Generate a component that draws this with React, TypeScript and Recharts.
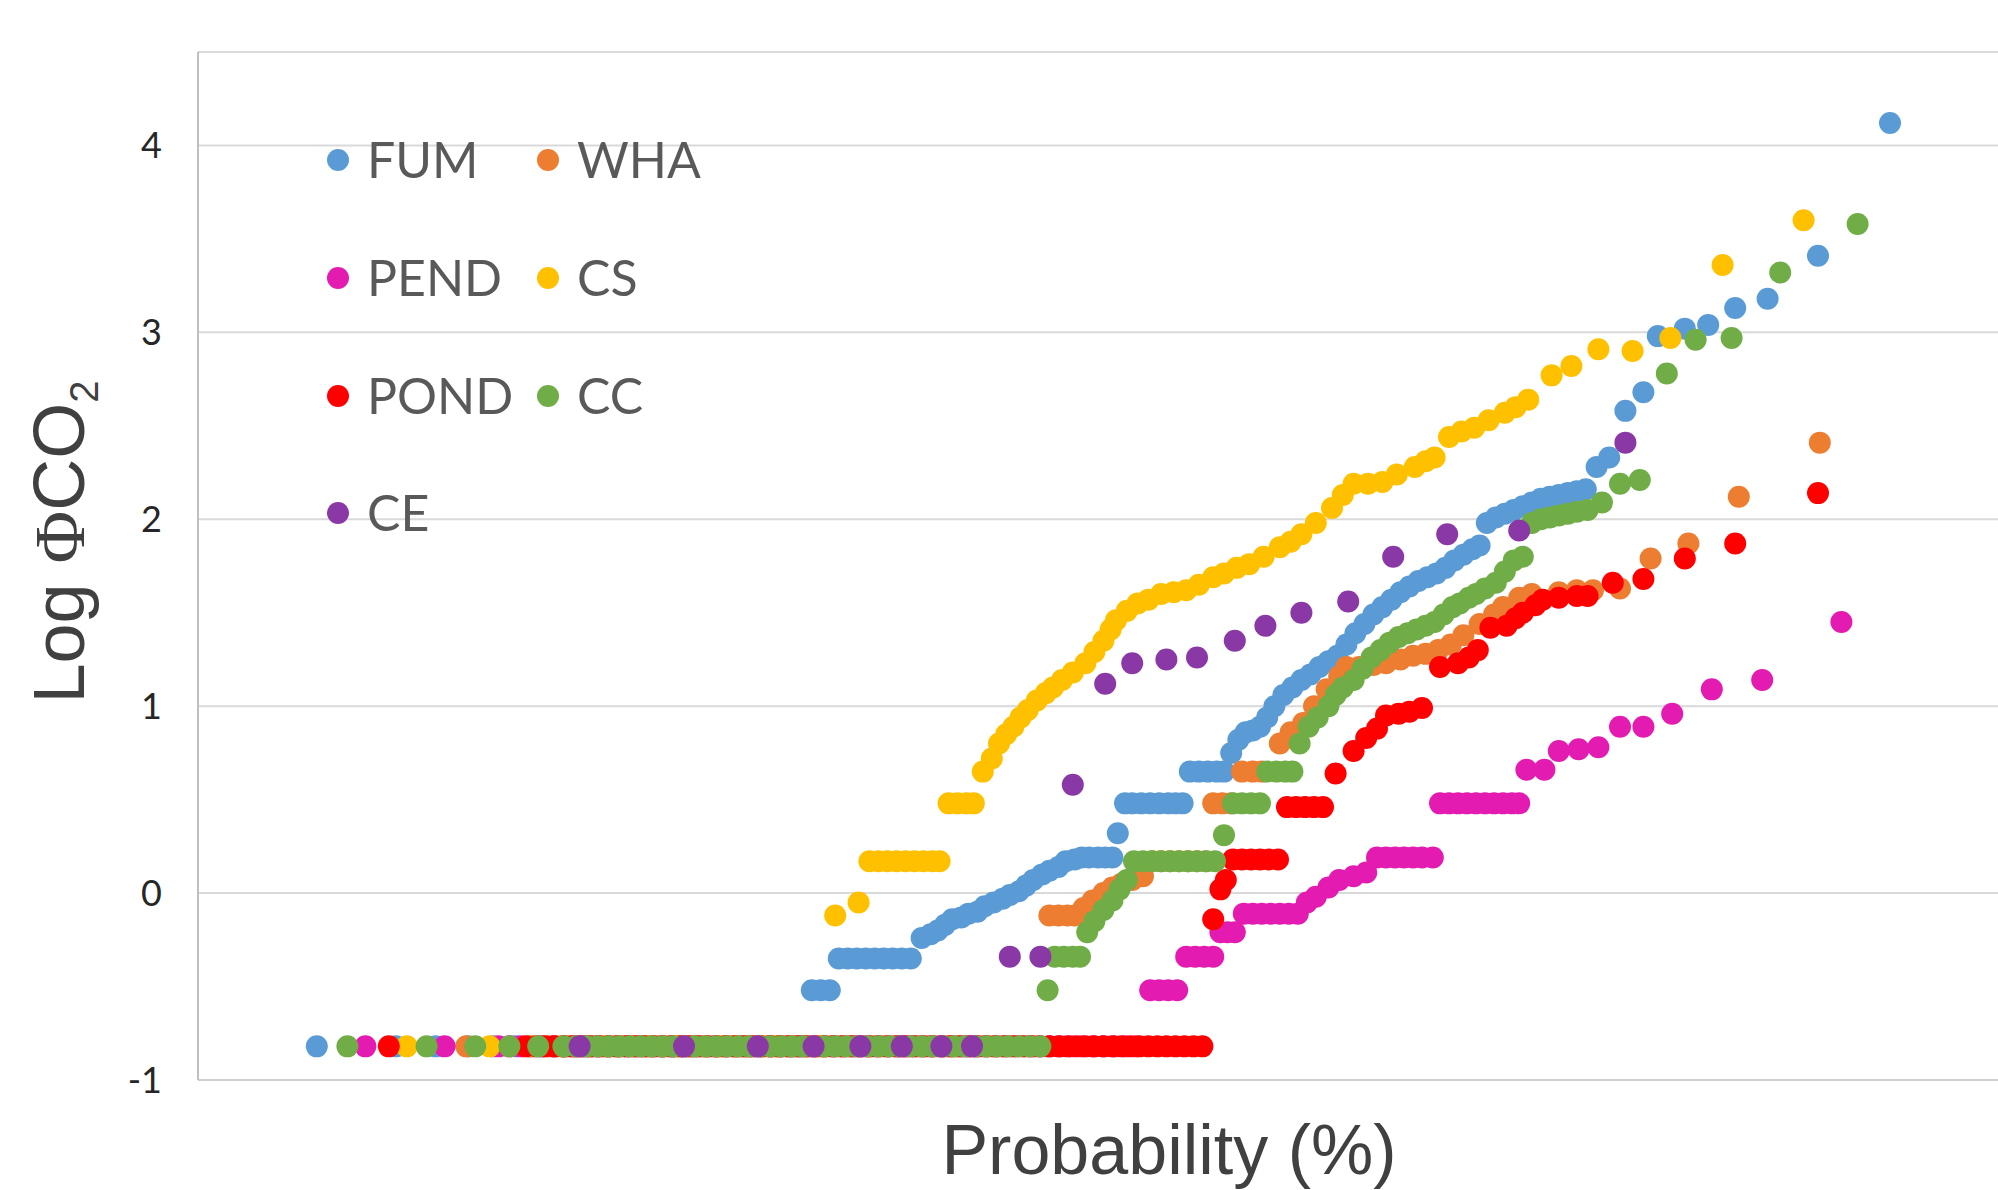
import React from 'react';
import { ScatterChart, Scatter, XAxis, YAxis, CartesianGrid, Legend } from 'recharts';

// every sample below the detection limit sits on this level
const DETECTION_LIMIT = -0.82;
const Y_TICKS = [-1, 0, 1, 2, 3, 4];

// FUM
const FUM_FLOOR = [6.6, 11.0, 13.2, 15.0, 16.4, 17.6, 18.4, 19.1, 19.8, 20.4, 21.0, 21.6, 22.2, 22.8, 23.4, 24.0, 24.6, 25.2, 25.8, 26.4, 27.0, 27.6, 28.2, 28.8, 29.4, 30.0, 30.6, 31.2, 31.8, 32.4, 33.0, 33.5];
const FUM_POINTS = [
  [34.1, -0.52], [34.6, -0.52], [35.1, -0.52],
  [35.6, -0.35], [36.1, -0.35], [36.6, -0.35], [37.1, -0.35], [37.6, -0.35], [38.1, -0.35], [38.6, -0.35], [39.1, -0.35], [39.6, -0.35],
  [40.2, -0.24], [40.7, -0.22], [41.1, -0.2], [41.5, -0.17], [41.9, -0.14], [42.4, -0.13], [42.8, -0.11], [43.3, -0.1], [43.7, -0.07], [44.2, -0.05], [44.7, -0.03], [45.1, -0.01], [45.6, 0.01], [46.0, 0.04], [46.4, 0.07], [46.9, 0.1], [47.3, 0.12], [47.8, 0.14], [48.2, 0.17], [48.7, 0.18],
  [49.1, 0.19], [49.5, 0.19], [50.0, 0.19], [50.4, 0.19], [50.8, 0.19],
  [51.1, 0.32],
  [51.5, 0.48], [51.9, 0.48], [52.4, 0.48], [52.9, 0.48], [53.4, 0.48], [53.9, 0.48], [54.3, 0.48], [54.7, 0.48],
  [55.1, 0.65], [55.6, 0.65], [56.1, 0.65], [56.6, 0.65], [57.0, 0.65],
  [57.4, 0.75], [57.8, 0.82], [58.2, 0.86], [58.6, 0.87], [59.0, 0.89], [59.4, 0.94], [59.8, 1.0], [60.3, 1.06], [60.8, 1.1], [61.3, 1.14], [61.8, 1.17], [62.3, 1.21], [62.8, 1.24], [63.3, 1.27], [63.8, 1.33], [64.3, 1.39], [64.8, 1.44], [65.3, 1.49], [65.8, 1.53], [66.3, 1.57], [66.8, 1.61], [67.3, 1.64], [67.8, 1.67], [68.3, 1.69], [68.8, 1.71], [69.3, 1.74], [69.8, 1.78], [70.3, 1.81], [70.8, 1.84], [71.2, 1.86],
  [71.6, 1.98], [72.1, 2.01], [72.6, 2.03], [73.1, 2.05], [73.6, 2.07], [74.1, 2.09], [74.6, 2.11], [75.1, 2.12], [75.6, 2.13], [76.1, 2.14], [76.6, 2.15], [77.1, 2.16],
  [77.7, 2.28], [78.4, 2.33], [79.3, 2.58], [80.3, 2.68], [81.1, 2.98], [82.6, 3.02], [83.9, 3.04], [85.4, 3.13], [87.2, 3.18], [90.0, 3.41], [94.0, 4.12],
];

// WHA
const WHA_FLOOR = [14.9, 19.9, 20.6, 21.2, 21.8, 22.4, 23.0, 23.6, 24.2, 24.8, 25.4, 26.0, 26.6, 27.2, 27.8, 28.4, 29.0, 29.6, 30.2, 30.8, 31.4, 32.0, 32.6, 33.2, 33.8, 34.4, 35.0, 35.6, 36.2, 36.8, 37.4, 38.0, 38.6, 39.2, 39.8, 40.4, 41.0, 41.6, 42.2, 42.8, 43.4, 44.0, 44.6, 45.2, 45.8, 46.4];
const WHA_POINTS = [
  [47.3, -0.12], [47.8, -0.12], [48.3, -0.12], [48.7, -0.12],
  [49.2, -0.08], [49.7, -0.04], [50.3, 0.0], [50.8, 0.03], [51.3, 0.05], [51.9, 0.07], [52.5, 0.09],
  [53.0, 0.17], [53.5, 0.17], [54.0, 0.17], [54.5, 0.17], [55.0, 0.17], [55.5, 0.17], [56.0, 0.17],
  [56.4, 0.48], [56.9, 0.48], [57.4, 0.48],
  [58.0, 0.65], [58.6, 0.65], [59.1, 0.65],
  [60.1, 0.8], [60.7, 0.86], [61.4, 0.91], [62.0, 1.0], [62.7, 1.09], [63.4, 1.16], [63.8, 1.21], [64.5, 1.21], [65.3, 1.22], [66.0, 1.23], [66.8, 1.25], [67.5, 1.27], [68.2, 1.28], [68.9, 1.3], [69.6, 1.33], [70.3, 1.38], [71.2, 1.44], [72.0, 1.49], [72.5, 1.53], [73.4, 1.58], [74.1, 1.6], [75.6, 1.61], [76.6, 1.62], [77.5, 1.62], [79.0, 1.63],
  [80.7, 1.79], [82.8, 1.87], [85.6, 2.12], [90.1, 2.41],
];

// PEND
const PEND_FLOOR = [9.3, 13.7, 16.7, 17.3, 17.9, 18.5, 19.1, 19.7, 20.3, 20.9, 21.5, 22.1, 22.7, 23.3, 23.9, 24.5, 25.1, 25.7, 26.3, 26.9, 27.5, 28.1, 28.7, 29.3, 29.9, 30.5, 31.1, 31.7, 32.3, 32.9, 33.5, 34.1, 34.7, 35.3, 35.9, 36.5, 37.1, 37.7, 38.3, 38.9, 39.5, 40.1, 40.7, 41.3, 41.9, 42.5, 43.1, 43.7, 44.3, 44.9, 45.5, 46.1, 46.7, 47.3, 47.9, 48.5, 49.1, 49.7, 50.3, 50.9, 51.5, 52.1];
const PEND_POINTS = [
  [52.9, -0.52], [53.4, -0.52], [53.9, -0.52], [54.4, -0.52],
  [54.9, -0.34], [55.4, -0.34], [55.9, -0.34], [56.4, -0.34],
  [56.8, -0.21], [57.2, -0.21], [57.6, -0.21],
  [58.1, -0.11], [58.6, -0.11], [59.1, -0.11], [59.6, -0.11], [60.1, -0.11], [60.6, -0.11], [61.1, -0.11],
  [61.6, -0.05], [62.1, -0.02], [62.8, 0.03], [63.4, 0.07], [64.2, 0.09], [64.9, 0.11],
  [65.5, 0.19], [66.0, 0.19], [66.5, 0.19], [67.0, 0.19], [67.5, 0.19], [68.0, 0.19], [68.6, 0.19],
  [69.0, 0.48], [69.5, 0.48], [70.0, 0.48], [70.5, 0.48], [71.0, 0.48], [71.5, 0.48], [72.0, 0.48], [72.5, 0.48], [73.0, 0.48], [73.4, 0.48],
  [73.8, 0.66], [74.8, 0.66], [75.6, 0.76], [76.7, 0.77], [77.8, 0.78], [79.0, 0.89], [80.3, 0.89], [81.9, 0.96], [84.1, 1.09], [86.9, 1.14], [91.3, 1.45],
];

// CS
const CS_FLOOR = [11.6, 16.2, 18.5, 19.4, 20.2, 21.0, 21.8, 22.6, 23.4, 24.2, 25.0, 25.8, 26.6, 27.4, 28.2, 29.0, 29.8, 30.6, 31.4, 32.2, 33.0, 33.8, 34.6];
const CS_POINTS = [
  [35.4, -0.12], [36.7, -0.05],
  [37.3, 0.17], [37.8, 0.17], [38.3, 0.17], [38.8, 0.17], [39.3, 0.17], [39.8, 0.17], [40.3, 0.17], [40.8, 0.17], [41.2, 0.17],
  [41.7, 0.48], [42.2, 0.48], [42.7, 0.48], [43.1, 0.48],
  [43.6, 0.65], [44.1, 0.72], [44.5, 0.8], [44.9, 0.85], [45.3, 0.89], [45.7, 0.94], [46.1, 0.98], [46.6, 1.03], [47.1, 1.07], [47.5, 1.1], [48.0, 1.14], [48.6, 1.18], [49.3, 1.23], [49.8, 1.29], [50.3, 1.35], [50.7, 1.41], [51.0, 1.46], [51.6, 1.51], [52.2, 1.55], [52.8, 1.57], [53.5, 1.6], [54.2, 1.61], [54.9, 1.62], [55.6, 1.65], [56.4, 1.69], [57.0, 1.71], [57.7, 1.74], [58.4, 1.76], [59.2, 1.8], [60.1, 1.85], [60.7, 1.88], [61.3, 1.92], [62.1, 1.98], [63.0, 2.06], [63.6, 2.13], [64.2, 2.19], [65.0, 2.19], [65.8, 2.2], [66.6, 2.24], [67.6, 2.28], [68.2, 2.31], [68.7, 2.33], [69.5, 2.44], [70.2, 2.47], [70.9, 2.49], [71.7, 2.53], [72.6, 2.57], [73.2, 2.6], [73.9, 2.64],
  [75.2, 2.77], [76.3, 2.82], [77.8, 2.91], [79.7, 2.9], [81.8, 2.97], [84.7, 3.36], [89.2, 3.6],
];

// POND
const POND_FLOOR = [10.6, 18.2, 18.8, 19.3, 19.8, 20.3, 20.8, 21.3, 21.8, 22.3, 22.8, 23.3, 23.8, 24.3, 24.8, 25.3, 25.8, 26.3, 26.8, 27.3, 27.8, 28.3, 28.8, 29.3, 29.8, 30.3, 30.8, 31.3, 31.8, 32.3, 32.8, 33.3, 33.8, 34.3, 34.8, 35.3, 35.8, 36.3, 36.8, 37.3, 37.8, 38.3, 38.8, 39.3, 39.8, 40.3, 40.8, 41.3, 41.8, 42.3, 42.8, 43.3, 43.8, 44.3, 44.8, 45.3, 45.8, 46.3, 46.8, 47.3, 47.8, 48.3, 48.8, 49.3, 49.8, 50.3, 50.8, 51.3, 51.8, 52.3, 52.8, 53.3, 53.8, 54.3, 54.8, 55.3, 55.8];
const POND_POINTS = [
  [56.4, -0.14], [56.8, 0.02], [57.1, 0.07],
  [57.5, 0.18], [58.0, 0.18], [58.5, 0.18], [59.0, 0.18], [59.5, 0.18], [60.0, 0.18],
  [60.5, 0.46], [61.0, 0.46], [61.5, 0.46], [62.0, 0.46], [62.5, 0.46],
  [63.2, 0.64], [64.2, 0.76], [64.9, 0.83], [65.5, 0.88], [66.0, 0.95], [66.7, 0.96], [67.3, 0.97], [68.0, 0.99],
  [69.0, 1.21], [70.0, 1.23], [70.6, 1.26], [71.1, 1.3], [71.8, 1.42], [72.7, 1.43], [73.2, 1.47], [73.6, 1.5], [74.3, 1.54], [74.7, 1.57], [75.6, 1.58], [76.6, 1.59], [77.2, 1.59],
  [78.6, 1.66], [80.3, 1.68], [82.6, 1.79], [85.4, 1.87], [90.0, 2.14],
];

// CC
const CC_FLOOR = [8.3, 12.7, 15.4, 17.3, 18.9, 20.3, 21.0, 21.6, 22.2, 22.8, 23.4, 24.0, 24.6, 25.2, 25.8, 26.4, 27.0, 27.6, 28.2, 28.8, 29.4, 30.0, 30.6, 31.2, 31.8, 32.4, 33.0, 33.6, 34.2, 34.8, 35.4, 36.0, 36.6, 37.2, 37.8, 38.4, 39.0, 39.6, 40.2, 40.8, 41.4, 42.0, 42.6, 43.2, 43.8, 44.4, 45.0, 45.6, 46.2, 46.8];
const CC_POINTS = [
  [47.2, -0.52],
  [47.6, -0.34], [48.1, -0.34], [48.6, -0.34], [49.0, -0.34],
  [49.4, -0.21], [49.8, -0.15], [50.3, -0.09], [50.8, -0.04], [51.2, 0.02], [51.6, 0.07],
  [52.0, 0.17], [52.5, 0.17], [53.0, 0.17], [53.5, 0.17], [54.0, 0.17], [54.5, 0.17], [55.0, 0.17], [55.5, 0.17], [56.0, 0.17], [56.5, 0.17],
  [57.0, 0.31],
  [57.5, 0.48], [58.0, 0.48], [58.5, 0.48], [59.0, 0.48],
  [59.4, 0.65], [59.9, 0.65], [60.4, 0.65], [60.8, 0.65],
  [61.2, 0.8], [61.7, 0.89], [62.2, 0.94], [62.8, 1.0], [63.2, 1.06], [63.6, 1.1], [64.2, 1.14], [64.7, 1.2], [65.2, 1.26], [65.7, 1.3], [66.2, 1.34], [66.7, 1.37], [67.2, 1.39], [67.7, 1.41], [68.2, 1.43], [68.7, 1.45], [69.2, 1.49], [69.7, 1.53], [70.1, 1.55], [70.6, 1.58], [71.0, 1.6], [71.5, 1.63], [72.1, 1.66], [72.6, 1.72], [73.1, 1.78], [73.6, 1.8],
  [74.1, 1.98], [74.6, 2.0], [75.1, 2.01], [75.6, 2.02], [76.1, 2.03], [76.6, 2.04], [77.2, 2.05], [78.0, 2.09],
  [79.0, 2.19], [80.1, 2.21], [81.6, 2.78], [83.2, 2.96], [85.2, 2.97], [87.9, 3.32], [92.2, 3.58],
];

// CE
const CE_FLOOR = [21.2, 27.0, 31.1, 34.2, 36.8, 39.1, 41.3, 43.0];
const CE_POINTS = [
  [45.1, -0.34], [46.8, -0.34], [48.6, 0.58],
  [50.4, 1.12], [51.9, 1.23], [53.8, 1.25], [55.5, 1.26], [57.6, 1.35], [59.3, 1.43], [61.3, 1.5], [63.9, 1.56],
  [66.4, 1.8], [69.4, 1.92], [73.4, 1.94], [79.3, 2.41],
];

const toData = (floor: number[], points: number[][]) => [
  ...floor.map((x) => ({ x, y: DETECTION_LIMIT })),
  ...points.map(([x, y]) => ({ x, y })),
];

const SERIES = [
  { name: 'FUM', color: '#5B9BD5', data: toData(FUM_FLOOR, FUM_POINTS) },
  { name: 'WHA', color: '#ED7D31', data: toData(WHA_FLOOR, WHA_POINTS) },
  { name: 'PEND', color: '#E31BB0', data: toData(PEND_FLOOR, PEND_POINTS) },
  { name: 'CS', color: '#FFC000', data: toData(CS_FLOOR, CS_POINTS) },
  { name: 'POND', color: '#FF0000', data: toData(POND_FLOOR, POND_POINTS) },
  { name: 'CC', color: '#70AD47', data: toData(CC_FLOOR, CC_POINTS) },
  { name: 'CE', color: '#8A38A6', data: toData(CE_FLOOR, CE_POINTS) },
];

const colorOf = (name: string) => SERIES.find((s) => s.name === name)?.color ?? '#000';

const LEGEND_ROWS = [['FUM', 'WHA'], ['PEND', 'CS'], ['POND', 'CC'], ['CE']];
const LEGEND_ROW_Y = [160, 278, 396, 513];
const LEGEND_COL_X = [338, 548];

const renderLegend = () => (
  <svg width={720} height={560} style={{ display: 'block' }}>
    {LEGEND_ROWS.map((row, r) =>
      row.map((name, c) => (
        <g key={name}>
          <circle cx={LEGEND_COL_X[c]} cy={LEGEND_ROW_Y[r]} r={11} fill={colorOf(name)} />
          <text
            x={LEGEND_COL_X[c] + 29}
            y={LEGEND_ROW_Y[r] + 18}
            fontFamily="Lato, 'Open Sans', sans-serif"
            fontSize={50}
            fill="#595959"
          >
            {name}
          </text>
        </g>
      ))
    )}
  </svg>
);

const YTitle = (props: any) => {
  const vb = props.viewBox ?? { x: 0, y: 52, width: 198, height: 1028 };
  const cx = vb.x + 84;
  const cy = vb.y + vb.height / 2 - 24;
  return (
    <text
      x={cx}
      y={cy}
      transform={`rotate(-90 ${cx} ${cy})`}
      textAnchor="middle"
      fontFamily="'Liberation Sans', Arial, sans-serif"
      fontSize={72}
      fill="#404040"
    >
      Log <tspan fontFamily="'Liberation Serif', serif">Φ</tspan>CO
      <tspan fontSize={40} dy={14}>2</tspan>
    </text>
  );
};

const XTitle = (props: any) => {
  const vb = props.viewBox ?? { x: 198, y: 1080, width: 1800, height: 110 };
  return (
    <text
      x={vb.x + vb.width / 2 + 71}
      y={vb.y + 94}
      textAnchor="middle"
      fontFamily="'Liberation Sans', Arial, sans-serif"
      fontSize={70}
      fill="#404040"
    >
      Probability (%)
    </text>
  );
};

const dot = (color: string) => (props: any) =>
  <circle cx={props.cx} cy={props.cy} r={11} fill={color} />;

export default function App() {
  return (
    <div style={{ position: 'absolute', left: 0, top: 0, width: 1998, height: 1190, background: '#fff' }}>
      <ScatterChart width={1998} height={1190} margin={{ top: 52, right: 0, bottom: 0, left: 0 }}>
        <CartesianGrid vertical={false} stroke="#D9D9D9" strokeWidth={2} />
        <XAxis
          type="number"
          dataKey="x"
          domain={[0, 100]}
          tick={false}
          tickLine={false}
          height={110}
          axisLine={{ stroke: '#D0D0D0', strokeWidth: 2 }}
          label={XTitle}
        />
        <YAxis
          type="number"
          dataKey="y"
          domain={[-1, 4.5]}
          ticks={Y_TICKS}
          width={198}
          tickLine={false}
          tickSize={6}
          tickMargin={30}
          axisLine={{ stroke: '#BFBFBF', strokeWidth: 2 }}
          tick={{ fontFamily: "Lato, 'Open Sans', sans-serif", fontSize: 36, fill: '#262626' }}
          label={YTitle}
        />
        <Legend
          layout="vertical"
          align="center"
          verticalAlign="middle"
          content={renderLegend}
          wrapperStyle={{ position: 'absolute', left: 0, top: 0, width: 720, height: 560 }}
        />
        {SERIES.map((s) => (
          <Scatter
            key={s.name}
            name={s.name}
            data={s.data}
            fill={s.color}
            shape={dot(s.color)}
            isAnimationActive={false}
          />
        ))}
      </ScatterChart>
    </div>
  );
}
